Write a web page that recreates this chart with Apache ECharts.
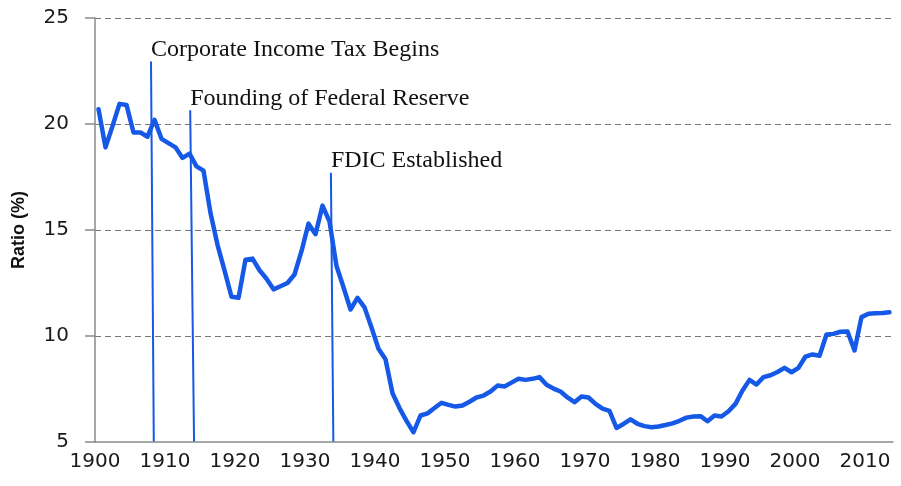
<!DOCTYPE html>
<html>
<head>
<meta charset="utf-8">
<script src="https://cdn.jsdelivr.net/npm/echarts@6/dist/echarts.min.js"></script>
<style>
  html, body { margin: 0; padding: 0; background: #fff; }
  #chart { width: 901px; height: 486px; }
</style>
</head>
<body>
<div id="chart"></div>
<script>
// years on the x axis (one category each)
const years = [];
for (let y = 1900; y <= 2013; y++) years.push(String(y));

// ratio (%), 1900..2013
const ratio = [
  20.7, 18.9, 19.9, 20.95, 20.9, 19.6, 19.6, 19.4, 20.2, 19.3,   // 1900s
  19.1, 18.9, 18.4, 18.6, 18.0, 17.8, 15.8, 14.3, 13.1, 11.85,   // 1910s
  11.8, 13.6, 13.65, 13.1, 12.7, 12.2, 12.35, 12.5, 12.9, 14.0,  // 1920s
  15.3, 14.8, 16.15, 15.4, 13.3, 12.3, 11.25, 11.8, 11.35, 10.4, // 1930s
  9.4, 8.9, 7.3, 6.6, 6.0, 5.46, 6.25, 6.35, 6.6, 6.85,          // 1940s
  6.75, 6.67, 6.72, 6.9, 7.1, 7.19, 7.38, 7.66, 7.62, 7.8,       // 1950s
  7.98, 7.93, 7.98, 8.06, 7.7, 7.52, 7.38, 7.1, 6.88, 7.15,      // 1960s
  7.1, 6.8, 6.57, 6.47, 5.66, 5.85, 6.07, 5.86, 5.75, 5.7,       // 1970s
  5.73, 5.8, 5.88, 6.0, 6.15, 6.2, 6.22, 5.98, 6.25, 6.2,        // 1980s
  6.45, 6.8, 7.43, 7.93, 7.71, 8.06, 8.15, 8.3, 8.5, 8.29,       // 1990s
  8.5, 9.03, 9.13, 9.07, 10.07, 10.1, 10.2, 10.21, 9.32, 10.89,  // 2000s
  11.05, 11.07, 11.08, 11.12                                     // 2010s
];

// event markers (hand drawn, slightly slanted in the original)
const eventNames = ['Corporate Income Tax Begins', 'Founding of Federal Reserve', 'FDIC Established'];
const eventTopYear = [1908.0, 1913.6, 1933.7];
const eventBottomYear = [1908.4, 1914.15, 1934.05];
const eventTopValue = [22.95, 20.65, 17.7];

const yTicks = { min: 5, max: 25, interval: 5 };

const blue = '#1559e6';
const axisGray = '#8a8a8a';
const tickFont = '"DejaVu Sans", Verdana, sans-serif';

let chart = echarts.init(document.getElementById('chart'));

let markData = eventNames.map((name, i) => ([
  { coord: [eventBottomYear[i], yTicks.min], name: name },
  { coord: [eventTopYear[i], eventTopValue[i]] }
]));

let option = {
  animation: false,
  grid: { left: 95, right: 8, top: 18, bottom: 44, containLabel: false },
  xAxis: [
    {
      type: 'category',
      data: years,
      boundaryGap: true,
      z: 5,
      axisLine: { lineStyle: { color: axisGray, width: 1.5 } },
      axisTick: { interval: 9, length: 7, lineStyle: { color: axisGray, width: 1.5 } },
      axisLabel: {
        interval: 9,
        margin: 10,
        color: '#1a1a1a',
        fontSize: 20,
        fontFamily: tickFont,
        padding: [0, 7, 0, 0]
      },
      splitLine: { show: false }
    },
    {
      // hidden helper axis for the event markers
      type: 'value',
      min: 1900,
      max: 2014,
      show: false
    }
  ],
  yAxis: {
    type: 'value',
    min: yTicks.min,
    max: yTicks.max,
    interval: yTicks.interval,
    name: 'Ratio (%)',
    nameLocation: 'middle',
    nameGap: 67,
    nameTextStyle: {
      fontSize: 18,
      fontWeight: 'bold',
      fontFamily: '"Liberation Sans", Arial, sans-serif',
      color: '#111'
    },
    axisLine: { show: true, lineStyle: { color: axisGray, width: 1.5 } },
    axisTick: { show: true, length: 10, lineStyle: { color: axisGray, width: 1.5 } },
    axisLabel: {
      margin: 26,
      color: '#1a1a1a',
      fontSize: 20,
      fontFamily: tickFont
    },
    splitLine: {
      show: true,
      showMinLine: false,
      lineStyle: { color: '#777', type: [6, 4], width: 1.2 }
    }
  },
  series: [
    {
      name: 'Ratio',
      type: 'line',
      data: ratio,
      symbol: 'none',
      smooth: false,
      lineStyle: { color: blue, width: 4.5, join: 'round', cap: 'round' },
      z: 3
    },
    {
      name: 'Events',
      type: 'line',
      xAxisIndex: 1,
      data: [],
      markLine: {
        silent: true,
        symbol: ['none', 'none'],
        animation: false,
        lineStyle: { color: blue, width: 2, type: 'solid' },
        label: {
          show: true,
          position: 'end',
          align: 'left',
          distance: 0,
          formatter: '{b}',
          color: '#111',
          fontSize: 24,
          fontFamily: '"Liberation Serif", "Times New Roman", serif'
        },
        data: markData
      },
      z: 4
    }
  ]
};

chart.setOption(option);
</script>
</body>
</html>
